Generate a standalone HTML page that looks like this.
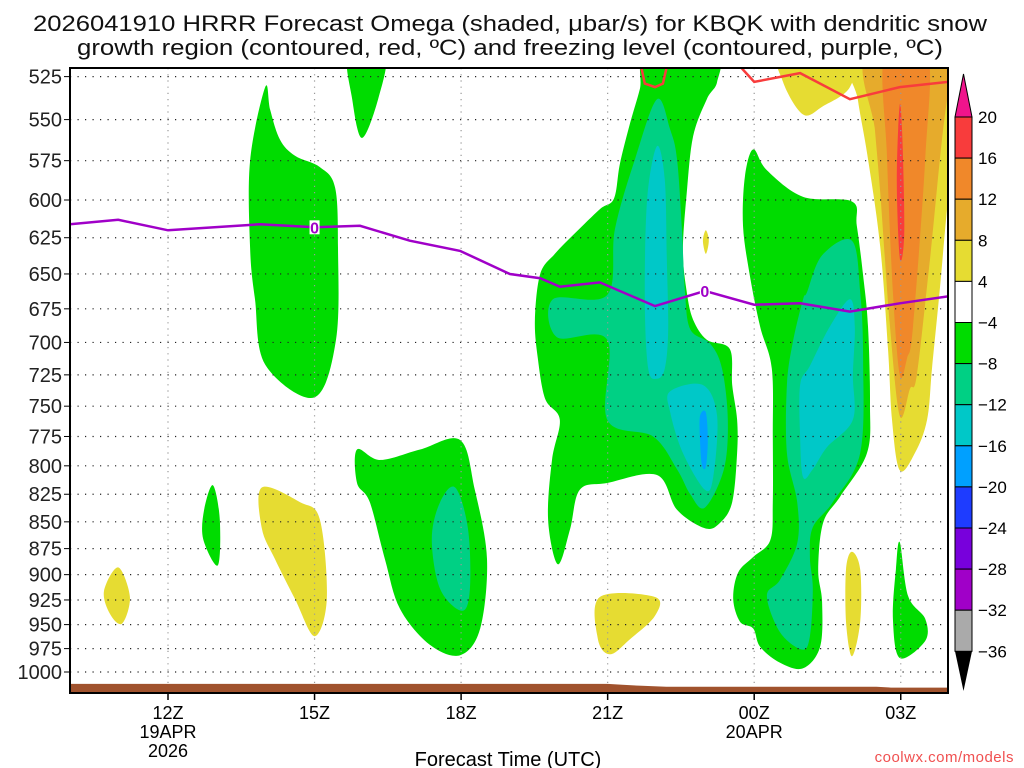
<!DOCTYPE html>
<html><head><meta charset="utf-8"><style>
html,body{margin:0;padding:0;background:#fff;}
svg{display:block;font-family:"Liberation Sans",sans-serif;}
</style></head><body>
<svg id="chart" width="1024" height="768" viewBox="0 0 1024 768">
<text x="510" y="31" text-anchor="middle" font-size="22" fill="#111" textLength="954" lengthAdjust="spacingAndGlyphs">2026041910 HRRR Forecast Omega (shaded, μbar/s) for KBQK with dendritic snow</text>
<text x="510" y="55" text-anchor="middle" font-size="22" fill="#111" textLength="866" lengthAdjust="spacingAndGlyphs">growth region (contoured, red, ºC) and freezing level (contoured, purple, ºC)</text>
<defs><clipPath id="pc"><rect x="70" y="68" width="878" height="625"/></clipPath></defs>
<g id="fills" clip-path="url(#pc)"></g>
<g id="grid"></g>
<g id="lines" clip-path="url(#pc)"></g>
<g id="axes"></g>
<g id="cbar"></g>
<text x="508" y="766" text-anchor="middle" font-size="20" font-family="Liberation Sans Narrow, Liberation Sans, sans-serif">Forecast Time (UTC)</text>
<text x="1014" y="762" text-anchor="end" font-size="15" fill="#f05050" letter-spacing="0.5">coolwx.com/models</text>
</svg>
<script>
const pressureLevels=[525,550,575,600,625,650,675,700,725,750,775,800,825,850,875,900,925,950,975,1000];
const hourTicks=[0,3,6,9,12,15];
const hourLabels=["12Z","15Z","18Z","21Z","00Z","03Z"];
const dateLabels=[["19APR","2026"],[],[],[],["20APR"],[]];
const cbarLevels=[20,16,12,8,4,-4,-8,-12,-16,-20,-24,-28,-32,-36];
const cbarColors=["#f83c3c","#f0882a","#e6ab2c","#e6dc32","#ffffff","#00dc00","#00d084","#00c8c8","#00a0ff","#1e3cff","#7800dc","#a000c8","#aaaaaa"];
const freezeHours=[-2.01,-1.02,0,1.88,3.01,3.93,4.95,5.98,7.0,7.62,8.02,8.84,9.97,10.99,12,12.94,13.96,14.98,15.97];
const freezePres=[616,613,620,616,618,617,627,634,650,653,659,656,673,662,672,671,677,671,666];
const dgzA=[[9.66,516],[9.76,529],[9.97,531],[10.13,529],[10.24,516]];
const dgzB=[[11.6,516],[12,528],[12.94,523],[13.96,538],[14.98,531],[15.97,528]];
const groundHours=[-2.1,9,9.3,9.7,10.2,14.5,14.8,16.1];
const groundPres=[1013,1013,1014,1015,1016,1016,1017,1017];
const shapes=[
 {c:"#e6dc32",p:[[-1.02,893],[-0.78,922],[-0.94,949],[-1.19,939],[-1.31,916]]},
 {c:"#00dc00",p:[[0.92,817],[1.06,848],[1.02,891],[0.72,866],[0.74,839]]},
 {c:"#e6dc32",p:[[1.92,819],[2.7,832],[3.11,848],[3.25,924],[3.0,962],[2.6,924],[2.19,885],[1.92,856]]},
 {c:"#00dc00",p:[[1.99,531],[2.09,544],[2.29,562],[2.6,572],[3.11,579],[3.42,592],[3.48,632],[3.44,698],[2.99,743],[1.99,717],[1.78,668],[1.68,632],[1.68,575]]},
 {c:"#00dc00",p:[[3.7,512],[4.44,512],[4.3,538],[3.97,561],[3.77,538]]},
 {c:"#00dc00",p:[[3.87,786],[4.34,795],[5.16,786],[5.98,778],[6.28,821],[6.53,885],[6.39,954],[5.98,982],[5.36,971],[4.75,934],[4.44,885],[4.13,832],[3.87,815]]},
 {c:"#00d084",p:[[5.88,819],[6.14,856],[6.18,914],[6.02,936],[5.57,914],[5.4,866],[5.57,832]]},
 {c:"#00dc00",p:[[9.81,512],[9.66,532],[9.46,552],[9.25,577],[9.13,599],[8.84,606],[8.33,622],[7.92,636],[7.62,650],[7.51,683],[7.57,712],[7.72,744],[8.02,761],[7.86,795],[7.78,848],[7.98,890],[8.23,857],[8.43,821],[8.99,815],[10.01,808],[10.42,839],[10.99,856],[11.3,851],[11.55,832],[11.65,789],[11.65,761],[11.55,733],[11.5,705],[11.03,698],[10.75,683],[10.62,663],[10.54,634],[10.62,595],[10.75,560],[11.03,538],[11.24,528],[11.2,512]]},
 {c:"#00d084",p:[[10.01,538],[10.28,556],[10.42,574],[10.52,619],[10.58,661],[10.69,690],[11.1,701],[11.34,720],[11.46,761],[11.38,803],[10.99,837],[10.69,825],[10.42,803],[9.93,775],[8.99,761],[8.99,698],[7.96,696],[7.88,668],[8.99,665],[9.15,619],[9.56,574]]},
 {c:"#00c8c8",p:[[10.01,566],[10.17,587],[10.21,639],[10.24,690],[10.17,720],[10.01,728],[9.83,720],[9.76,668],[9.81,599]]},
 {c:"#00c8c8",p:[[10.28,738],[10.95,733],[11.24,758],[11.16,810],[10.99,821],[10.54,789],[10.28,755]]},
 {c:"#00a0ff",p:[[10.89,758],[11.01,755],[11.05,778],[11.01,801],[10.93,799],[10.89,778]]},
 {c:"#e6dc32",p:[[11.01,620],[11.07,627],[11.01,636],[10.95,627]]},
 {c:"#e6dc32",p:[[8.84,922],[9.97,922],[9.97,941],[9.46,965],[9.05,981],[8.8,965]]},
 {c:"#00dc00",p:[[11.98,568],[12.26,581],[13.0,598],[14.0,601],[14.1,617],[14.23,651],[14.33,688],[14.37,747],[14.31,789],[13.76,827],[13.41,851],[13.31,895],[13.39,927],[13.35,973],[13.0,996],[12.53,990],[12.12,973],[11.98,954],[11.71,947],[11.57,924],[11.67,898],[11.98,883],[12.33,867],[12.38,832],[12.38,775],[12.36,720],[12.12,688],[11.91,651],[11.77,617],[11.81,585]]},
 {c:"#00d084",p:[[13.08,663],[13.39,637],[14.0,627],[14.17,663],[14.23,713],[14.17,789],[13.61,832],[13.2,855],[13.14,883],[13.2,914],[13.14,962],[12.98,976],[12.53,958],[12.26,921],[12.53,905],[12.88,870],[12.88,832],[12.67,789],[12.67,733],[12.79,700],[13.0,668]]},
 {c:"#00c8c8",p:[[13.96,668],[14.06,688],[14.02,725],[14.02,761],[13.49,784],[13.2,803],[13.0,810],[12.94,775],[12.94,733],[13.14,718],[13.55,688]]},
 {c:"#e6dc32",p:[[12.57,512],[12.59,528],[13.0,547],[13.41,542],[13.96,531],[14.0,512]]},
 {c:"#e6dc32",p:[[14.0,878],[14.17,895],[14.17,947],[14.0,983],[13.88,947],[13.88,895]]},
 {c:"#00dc00",p:[[14.98,869],[15.15,921],[15.5,944],[15.5,967],[14.98,985],[14.84,944],[14.9,895]]},
 {c:"#e6dc32",p:[[14.02,512],[14.12,538],[14.33,574],[14.58,631],[14.74,705],[14.82,761],[14.98,804],[15.29,789],[15.54,761],[15.64,720],[15.8,661],[15.97,599],[16.3,512]]},
 {c:"#e6ab2c",p:[[14.33,512],[14.47,556],[14.58,595],[14.78,688],[14.98,758],[15.19,736],[15.33,725],[15.6,639],[15.95,538],[16.3,512]]},
 {c:"#f0882a",p:[[14.68,512],[14.72,574],[14.84,663],[14.98,725],[15.13,712],[15.25,688],[15.5,574],[15.54,512]]},
 {c:"#f83c3c",p:[[14.98,541],[15.04,567],[15.07,623],[14.98,639],[14.92,587]]}
];
const NS="http://www.w3.org/2000/svg";
const X0=168,PXH=48.85,Y1000=672,KY=924;
function xs(h){return X0+h*PXH;}
function ys(p){return Y1000-KY*Math.log(1000/p);}
function mk(tag,attrs,parent){const e=document.createElementNS(NS,tag);for(const k in attrs)e.setAttribute(k,attrs[k]);parent.appendChild(e);return e;}
function smoothClosed(pts){
 const P=pts.map(q=>[xs(q[0]),ys(q[1])]);const n=P.length;let d="M"+P[0][0].toFixed(1)+","+P[0][1].toFixed(1);
 for(let i=0;i<n;i++){const p0=P[(i-1+n)%n],p1=P[i],p2=P[(i+1)%n],p3=P[(i+2)%n];
  const c1=[p1[0]+(p2[0]-p0[0])/6,p1[1]+(p2[1]-p0[1])/6],c2=[p2[0]-(p3[0]-p1[0])/6,p2[1]-(p3[1]-p1[1])/6];
  d+="C"+c1[0].toFixed(1)+","+c1[1].toFixed(1)+" "+c2[0].toFixed(1)+","+c2[1].toFixed(1)+" "+p2[0].toFixed(1)+","+p2[1].toFixed(1);}
 return d+"Z";}
const fills=document.getElementById('fills');
shapes.forEach((s,i)=>{const e=mk('path',{d:smoothClosed(s.p),fill:s.c},fills);
 
 });
let gd="M"+xs(groundHours[0])+","+ys(1040);
groundHours.forEach((h,i)=>{gd+="L"+xs(h).toFixed(1)+","+ys(groundPres[i]).toFixed(1);});
gd+="L"+xs(groundHours[groundHours.length-1])+","+ys(1040)+"Z";
const gr=mk('path',{d:gd,fill:"#a0522d"},fills);


const grid=document.getElementById('grid');
pressureLevels.forEach(p=>{const l=mk('line',{x1:70,x2:948,y1:ys(p),y2:ys(p),stroke:"#222","stroke-width":1.2,"stroke-dasharray":"1.2 6.3"},grid);
 
 });
hourTicks.forEach(h=>{const l=mk('line',{x1:xs(h),x2:xs(h),y1:68,y2:684,stroke:"#999","stroke-width":1.2,"stroke-dasharray":"1.2 5"},grid);
 
 });
const lines=document.getElementById('lines');
const fz=mk('polyline',{points:freezeHours.map((h,i)=>xs(h).toFixed(1)+","+ys(freezePres[i]).toFixed(1)).join(" "),fill:"none",stroke:"#a000c8","stroke-width":2.5},lines);


[dgzA,dgzB].forEach((arr,k)=>{const e=mk('polyline',{points:arr.map(q=>xs(q[0]).toFixed(1)+","+ys(q[1]).toFixed(1)).join(" "),fill:"none",stroke:"#f83c3c","stroke-width":2.5},lines);
 
 });
[[3.0,618],[10.99,662]].forEach((q,k)=>{
 const bg=mk('rect',{x:xs(q[0])-5,y:ys(q[1])-7,width:10,height:14,fill:"#fff"},lines);
 
 
 const t=mk('text',{x:xs(q[0]),y:ys(q[1])+6,"text-anchor":"middle","font-size":16,"font-weight":"bold",fill:"#a000c8"},lines);t.textContent="0";
 
 });
const axes=document.getElementById('axes');
const fr=mk('rect',{x:70,y:68,width:878,height:625,fill:"none",stroke:"#000","stroke-width":2},axes);


pressureLevels.forEach(p=>{
 const tk=mk('line',{x1:64,x2:70,y1:ys(p),y2:ys(p),stroke:"#000","stroke-width":1},axes);
 
 
 const t=mk('text',{x:62,y:ys(p)+7,"text-anchor":"end","font-size":20,fill:"#222"},axes);t.textContent=p;
 
 });
hourTicks.forEach((h,i)=>{
 const tk=mk('line',{x1:xs(h),x2:xs(h),y1:693,y2:700,stroke:"#000","stroke-width":1.5},axes);
 
 
 const lab=[hourLabels[i]].concat(dateLabels[i]);
 lab.forEach((s,j)=>{const t=mk('text',{x:xs(h),y:719+j*19,"text-anchor":"middle","font-size":18,"font-family":"Liberation Sans Narrow, Liberation Sans, sans-serif",fill:"#000"},axes);t.textContent=s;
  
  });});
const cb=document.getElementById('cbar');
const CB_TOP=117,CB_H=41.1,CBX=955,CBW=17;
const tri=mk('polygon',{points:`${CBX},${CB_TOP} ${CBX+CBW},${CB_TOP} ${CBX+CBW/2},74`,fill:"#f0148c",stroke:"#000","stroke-width":1},cb);


cbarColors.forEach((c,i)=>{const r=mk('rect',{x:CBX,y:CB_TOP+i*CB_H,width:CBW,height:CB_H,fill:c,stroke:"#000","stroke-width":1},cb);
 
 });
const bot=CB_TOP+cbarColors.length*CB_H;
const tri2=mk('polygon',{points:`${CBX},${bot} ${CBX+CBW},${bot} ${CBX+CBW/2},691`,fill:"#000"},cb);


cbarLevels.forEach((v,i)=>{const t=mk('text',{x:978,y:CB_TOP+i*CB_H+6,"font-size":17,fill:"#000"},cb);
 t.textContent=v<0?"\u2212"+Math.abs(v):String(v);
 
 });
</script>
</body></html>
